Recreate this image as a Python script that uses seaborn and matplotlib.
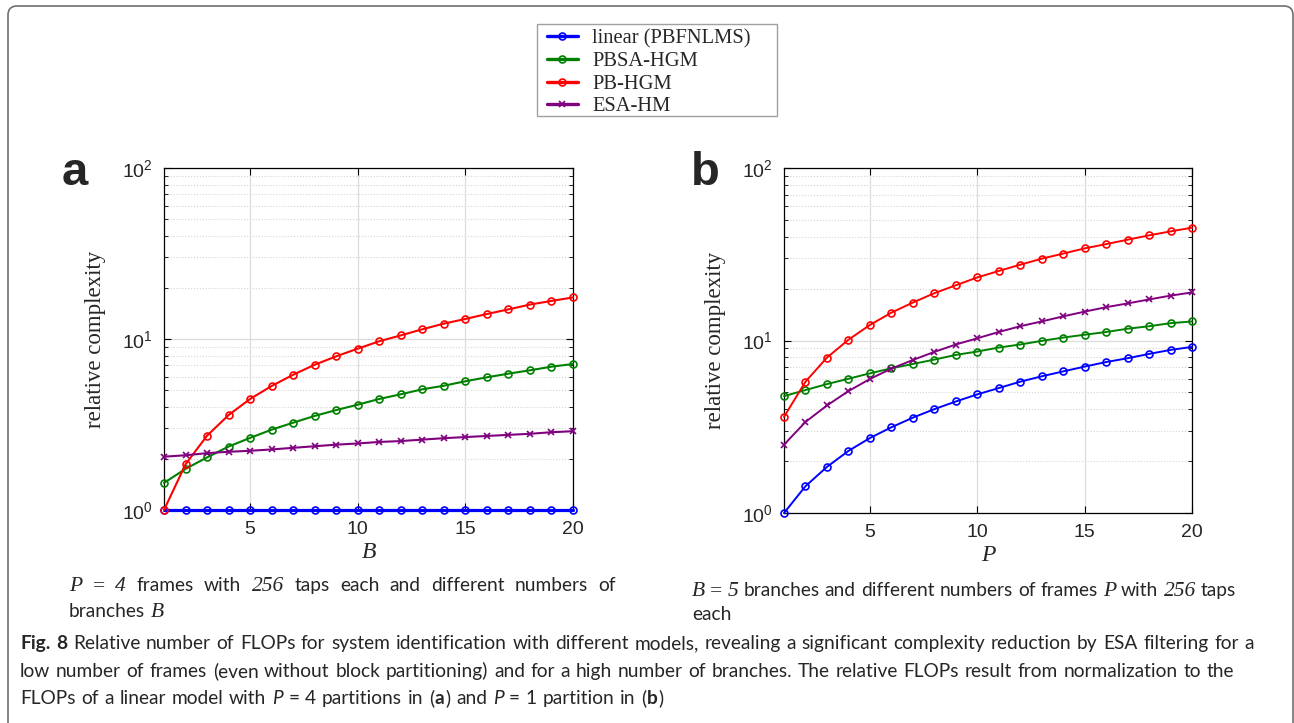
import numpy as np
import pandas as pd
import seaborn as sns
import matplotlib.pyplot as plt
from matplotlib.lines import Line2D
from matplotlib.patches import FancyBboxPatch, Rectangle
from matplotlib.transforms import IdentityTransform
from matplotlib.ticker import FixedLocator, NullLocator, LogLocator

W, H = 1294, 723

# series names and colours
models = ['linear (PBFNLMS)', 'PBSA-HGM', 'PB-HGM', 'ESA-HM']
colors = ['#0000ff', '#008000', '#ff0000', '#800080']
marks = ['o', 'o', 'o', 'x']

# panel a: P = 4 frames, varying number of branches B
branches = list(range(1, 21))
a_linear = [1.0] * 20
a_pbsa = [1.44, 1.74, 2.03, 2.35, 2.64, 2.95, 3.24, 3.55, 3.84, 4.13,
          4.46, 4.75, 5.08, 5.33, 5.66, 5.97, 6.27, 6.56, 6.89, 7.14]
a_pb = [1.0, 1.85, 2.72, 3.59, 4.46, 5.31, 6.18, 7.07, 7.92, 8.78,
        9.7, 10.5, 11.4, 12.3, 13.1, 14.0, 14.9, 15.9, 16.7, 17.5]
a_esa = [2.05, 2.09, 2.15, 2.19, 2.22, 2.26, 2.31, 2.36, 2.41, 2.45,
         2.50, 2.53, 2.58, 2.63, 2.67, 2.71, 2.75, 2.79, 2.85, 2.89]

# panel b: B = 5 branches, varying number of frames P
frames = list(range(1, 21))
b_linear = [1.0, 1.43, 1.85, 2.29, 2.72, 3.14, 3.57, 4.0, 4.43, 4.87,
            5.3, 5.77, 6.2, 6.62, 7.06, 7.5, 7.89, 8.36, 8.82, 9.18]
b_pbsa = [4.76, 5.16, 5.59, 6.0, 6.45, 6.9, 7.31, 7.75, 8.25, 8.63,
          9.1, 9.48, 9.95, 10.4, 10.8, 11.2, 11.7, 12.1, 12.6, 12.9]
b_pb = [3.61, 5.77, 7.96, 10.1, 12.3, 14.5, 16.6, 18.8, 20.9, 23.2,
        25.3, 27.5, 29.8, 31.9, 34.2, 36.2, 38.4, 40.7, 42.9, 45.1]
b_esa = [2.49, 3.37, 4.2, 5.09, 5.98, 6.87, 7.71, 8.59, 9.48, 10.3,
         11.2, 12.1, 12.9, 13.8, 14.7, 15.6, 16.4, 17.3, 18.2, 19.0]

sns.set_style('ticks')
plt.rcParams['font.family'] = ['Liberation Sans', 'DejaVu Sans']
plt.rcParams['mathtext.fontset'] = 'custom'
plt.rcParams['mathtext.rm'] = 'Liberation Sans'

SERIF = 'Liberation Serif'
CAPF = 'Lato'
TICK_C = '#262626'

fig = plt.figure(figsize=(W / 100, H / 100), dpi=100)
ax_a = fig.add_axes([164 / W, 1 - 510 / H, 409 / W, 342 / H])
ax_b = fig.add_axes([784 / W, 1 - 513 / H, 408 / W, 345 / H])


def draw_panel(ax, x, series, lws, xlabel):
    df = pd.DataFrame({
        'x': np.tile(x, len(models)),
        'y': np.concatenate(series),
        'model': np.repeat(models, len(x)),
    })
    sns.lineplot(data=df, x='x', y='y', hue='model',
                 palette=dict(zip(models, colors)),
                 errorbar=None, legend=False, ax=ax)
    for line, c, lw, m in zip(ax.lines, colors, lws, marks):
        line.set_linewidth(lw)
        line.set_marker(m)
        line.set_markerfacecolor('none')
        line.set_markeredgecolor(c)
        line.set_markeredgewidth(1.2)
        line.set_markersize(5 if m == 'o' else 4.5)
        line.set_clip_on(False)
        line.set_zorder(3)
    ax.set_yscale('log')
    ax.set_xlim(1, 20)
    ax.set_ylim(1, 100)
    ax.xaxis.set_major_locator(FixedLocator([5, 10, 15, 20]))
    ax.xaxis.set_minor_locator(NullLocator())
    ax.yaxis.set_major_locator(LogLocator(base=10))
    ax.yaxis.set_minor_locator(LogLocator(base=10, subs=np.arange(2, 10)))
    ax.grid(True, which='major', color='#dcdcdc', lw=0.9)
    ax.yaxis.grid(True, which='minor', color='#d4d4d4', lw=0.8, ls=':')
    ax.set_axisbelow(True)
    for sp in ax.spines.values():
        sp.set_visible(True)
        sp.set_color('black')
        sp.set_linewidth(0.9)
    ax.tick_params(which='both', direction='in', top=True, right=True,
                   labelsize=14, labelcolor=TICK_C, color='black')
    ax.tick_params(which='major', length=5, pad=8)
    ax.tick_params(which='minor', length=3)
    ax.set_xlabel(xlabel, family=SERIF, style='italic', fontsize=17)
    ax.set_ylabel('relative complexity', family=SERIF, fontsize=16.5)
    ax.yaxis.set_label_coords(-0.142, 0.5)


draw_panel(ax_a, branches, [a_linear, a_pbsa, a_pb, a_esa],
           [2.3, 1.5, 1.5, 1.5], 'B')
ax_a.xaxis.set_label_coords(0.5, -0.095)
draw_panel(ax_b, frames, [b_linear, b_pbsa, b_pb, b_esa],
           [1.4, 1.4, 1.4, 1.4], 'P')
ax_b.xaxis.set_label_coords(0.5, -0.092)

# panel letters
fig.text(62 / W, 1 - 185 / H, 'a', fontsize=34, weight='bold', va='baseline')
fig.text(691 / W, 1 - 185 / H, 'b', fontsize=34, weight='bold', va='baseline')

# shared legend: box drawn separately, entries placed inside it
fig.add_artist(Rectangle((537, H - 116), 240, 92, transform=IdentityTransform(),
                         fill=True, fc='white', ec='#a0a0a0', lw=1.0, zorder=1))
handles = [Line2D([], [], color=c, lw=2.4, marker=m, ms=5 if m == 'o' else 4.5,
                  mfc='none', mec=c, mew=1.2) for c, m in zip(colors, marks)]
leg = fig.legend(handles, models, loc='upper left',
                 bbox_to_anchor=(547 / W, 1 - 29 / H), frameon=False,
                 prop={'family': SERIF, 'size': 14.8}, handlelength=1.5,
                 handletextpad=0.7, labelspacing=0.16, borderpad=0,
                 borderaxespad=0)
leg.set_zorder(2)

# outer frame with rounded top corners (bottom edge falls outside)
frame = FancyBboxPatch((8, -30), W - 9, H - 6 + 30,
                       boxstyle='round,pad=0,rounding_size=9',
                       transform=IdentityTransform(), fill=False,
                       ec='#707070', lw=1.2)
fig.add_artist(frame)

rend = fig.canvas.get_renderer()


def space_w(kw, size):
    t1 = fig.text(0, 0, 'x x', fontsize=size, **kw)
    t2 = fig.text(0, 0, 'xx', fontsize=size, **kw)
    w = t1.get_window_extent(rend).width - t2.get_window_extent(rend).width
    t1.remove()
    t2.remove()
    return w


def text_runs(x, y, parts, size, width=None):
    # words in mixed styles placed one after another on a baseline;
    # with width given the gaps are stretched to fill it
    words = []
    gap = 0
    for s, kw in parts:
        for i, p in enumerate(s.split(' ')):
            if i > 0:
                gap += 1
            if p:
                words.append((p, kw, gap))
                gap = 0
    placed = []
    for p, kw, g in words:
        kw = {'fontsize': size, **kw}
        t = fig.text(0, round(H - y), p, transform=IdentityTransform(),
                     va='baseline', **kw)
        placed.append((t, t.get_window_extent(rend).width + 0.8, g))
    sp = space_w({'family': CAPF}, size)
    if width is not None:
        n = sum(g for _, _, g in placed)
        sp = (width - sum(w for _, w, _ in placed)) / n
    for t, w, g in placed:
        x += g * sp
        t.set_x(x)
        x += w


cap = {'family': CAPF}
capb = {'family': CAPF, 'weight': 'bold'}
capi = {'family': CAPF, 'style': 'italic'}
CS = 13.8
mi = {'family': SERIF, 'style': 'italic', 'fontsize': CS * 1.12}
mr = {'family': SERIF, 'fontsize': CS * 1.12}

text_runs(69, 591, [('P', mi), (' = ', mr), ('4', mi),
                    (' frames with ', cap), ('256', mi),
                    (' taps each and different numbers of', cap)], CS, width=548)
text_runs(69, 617, [('branches ', cap), ('B', mi)], CS)
text_runs(692, 596, [('B', mi), (' = ', mr), ('5', mi),
                     (' branches and different numbers of frames ', cap),
                     ('P', mi), (' with ', cap), ('256', mi), (' taps', cap)], CS, width=545)
text_runs(692, 620, [('each', cap)], CS)

text_runs(20, 649, [('Fig. 8', capb),
                    (' Relative number of FLOPs for system identification with different '
                     'models, revealing a significant complexity reduction by ESA filtering for a', cap)], CS)
text_runs(20, 677, [('low number of frames (even without block partitioning) and for a high '
                     'number of branches. The relative FLOPs result from normalization to the', cap)], CS)
text_runs(20, 704, [('FLOPs of a linear model with ', cap), ('P', capi),
                    (' = 4 partitions in (', cap), ('a', capb), (') and ', cap),
                    ('P', capi), (' = 1 partition in (', cap), ('b', capb),
                    (')', cap)], CS)

fig.savefig('out.png', dpi=100)
